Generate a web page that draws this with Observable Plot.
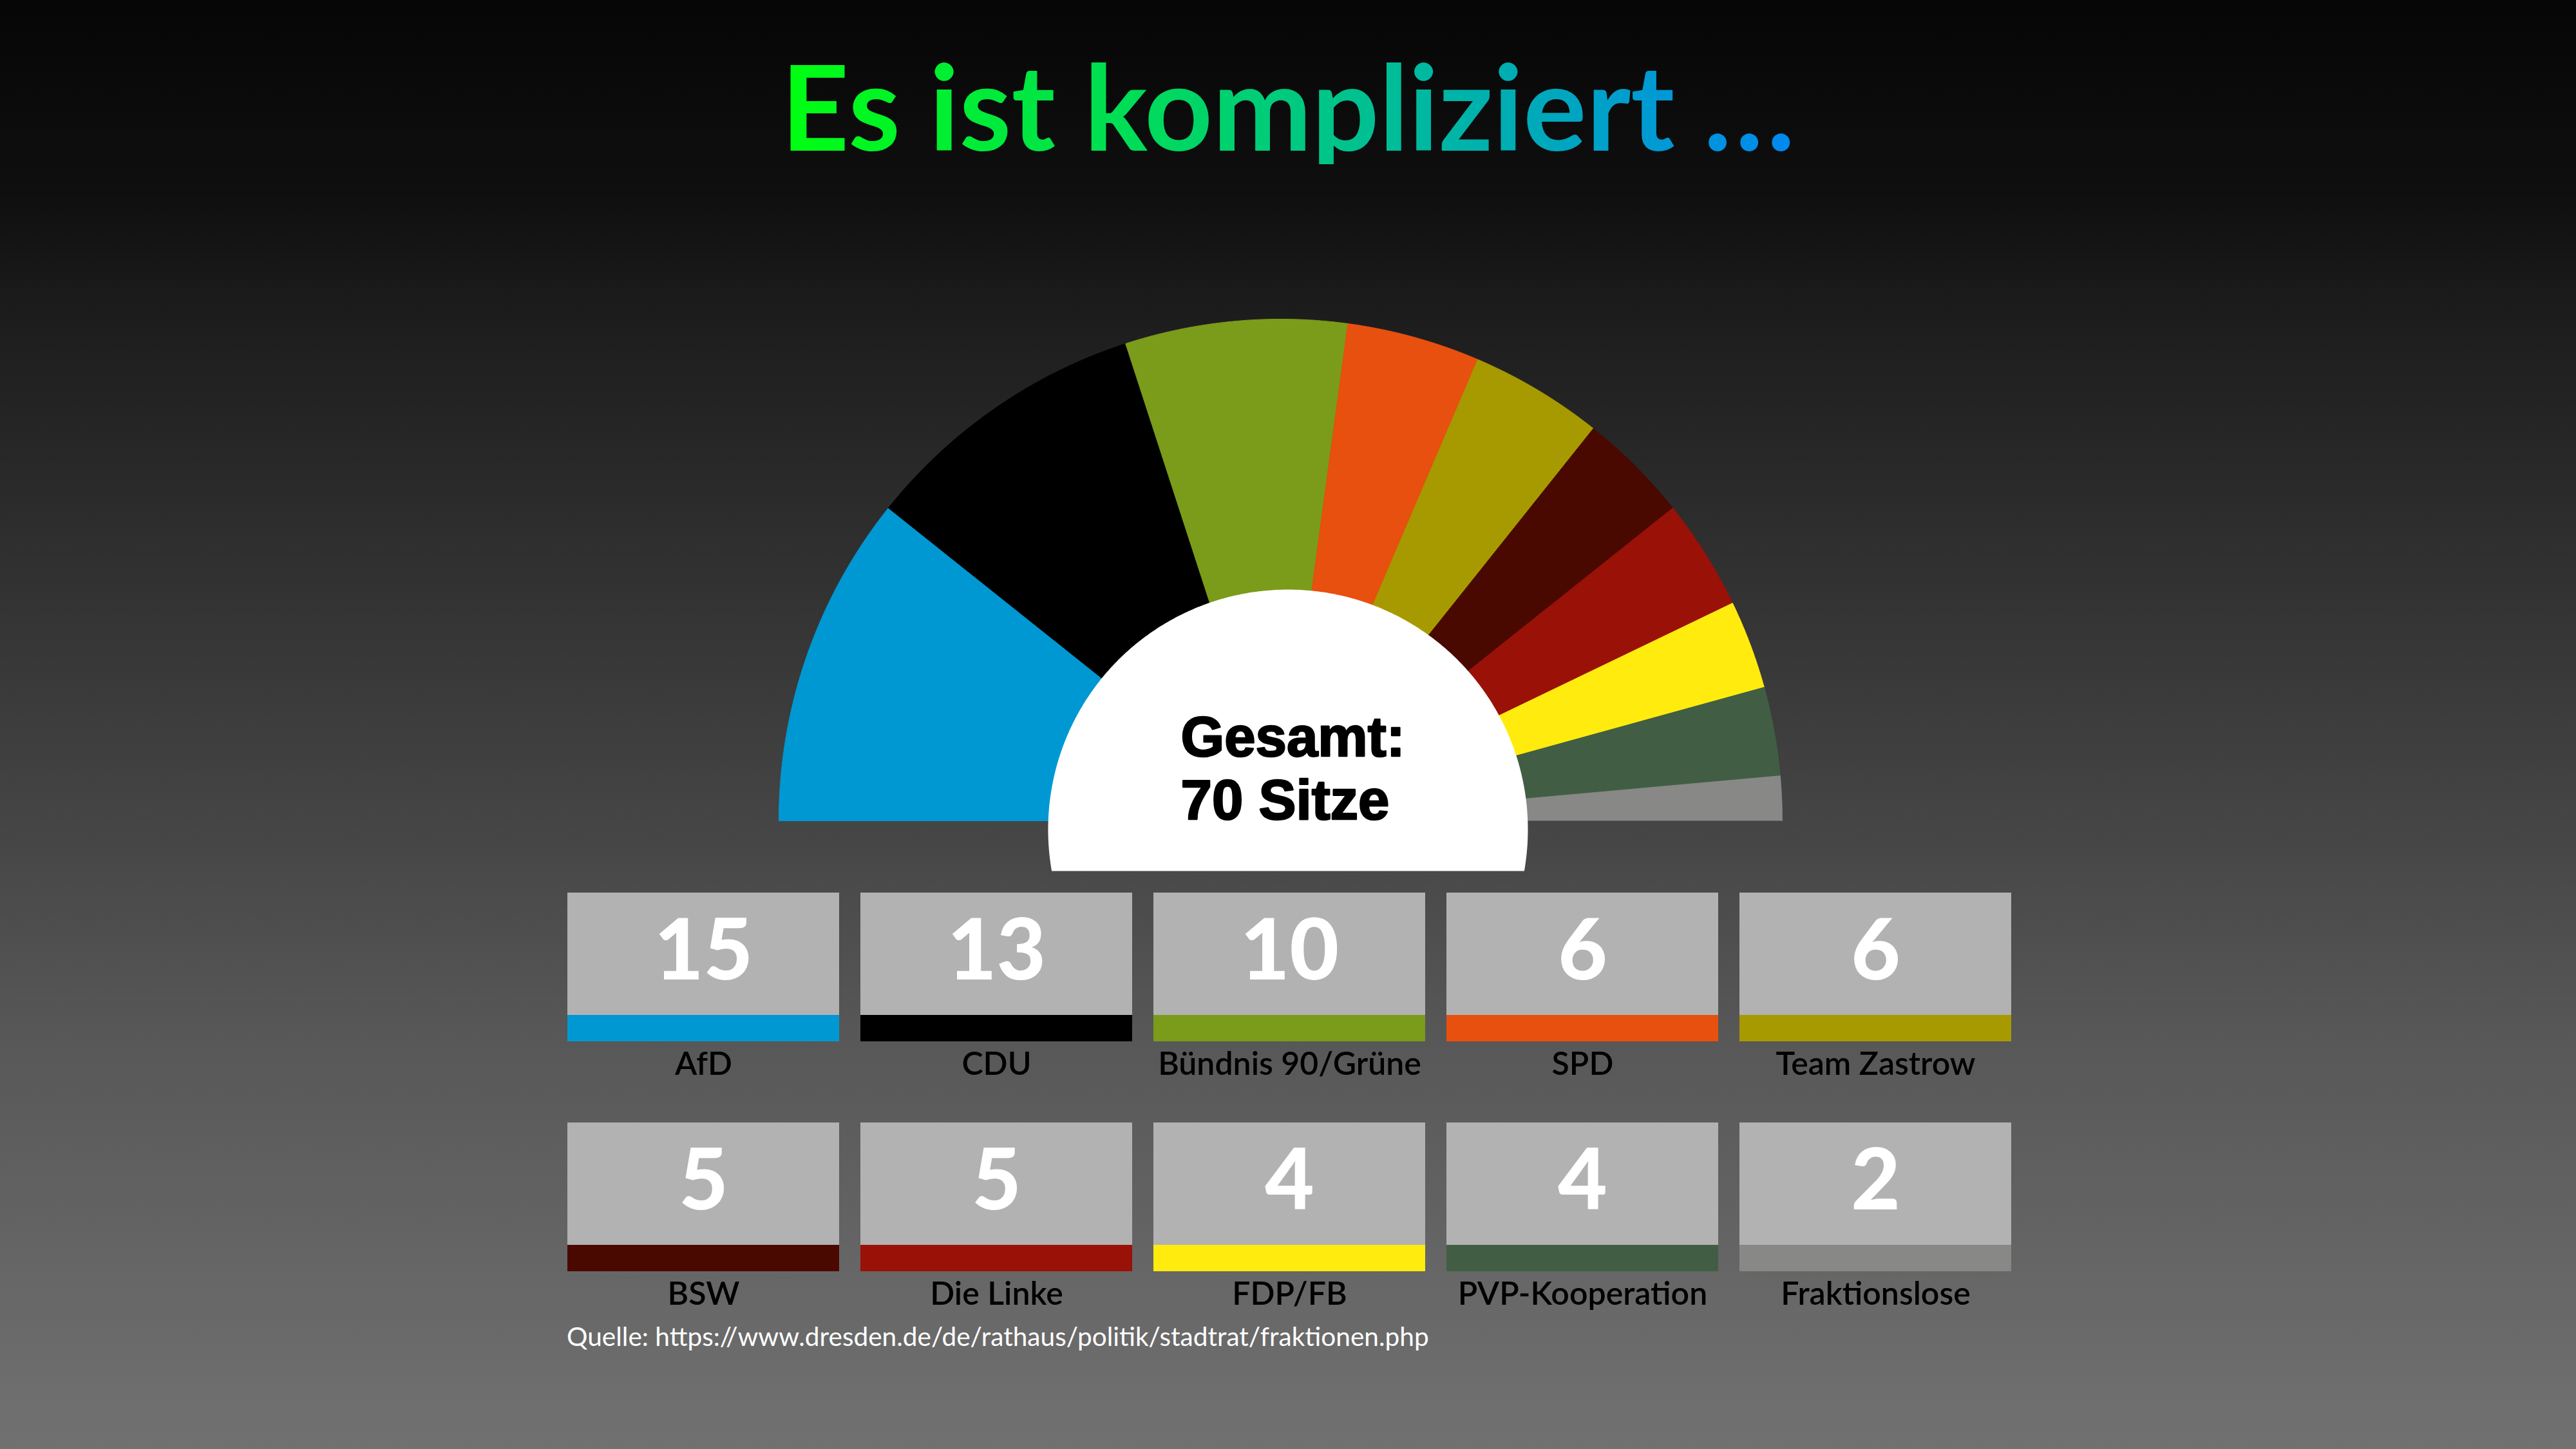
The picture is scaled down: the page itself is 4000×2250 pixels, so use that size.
<!DOCTYPE html>
<html>
<head>
<meta charset="utf-8">
<script src="https://cdn.jsdelivr.net/npm/d3@7"></script>
<script src="https://cdn.jsdelivr.net/npm/@observablehq/plot@0.6"></script>
<style>
html, body { margin: 0; padding: 0; }
body { width: 4000px; height: 2250px; overflow: hidden; }
#page {
  position: relative; width: 4000px; height: 2250px;
  background: linear-gradient(to bottom, #060606 0px, #0f0f0f 300px, #1c1c1c 480px, #464646 1300px, #575757 1600px, #6b6b6b 2100px, #717171 2250px);
  font-family: Lato, sans-serif;
}
#title { position: absolute; left: 0; top: 71px; width: 4000px; text-align: center; font-size: 184px; font-weight: 700; line-height: 1; }
#title span {
  display: inline-block;
  background: linear-gradient(to right, #00ff10 0%, #00dc58 35%, #00bd98 60%, #00a2c6 80%, #0088f0 100%);
  -webkit-background-clip: text; background-clip: text; color: transparent;
}
#hemi { position: absolute; left: 0; top: 330px; }
#boxes { position: absolute; left: 0; top: 1370px; }
#source { position: absolute; left: 880px; top: 2055px; font-size: 40.6px; color: #ffffff; font-weight: 400; line-height: 1; }
svg { display: block; }
</style>
</head>
<body>
<div id="page">
  <div id="title"><span id="titleText"></span></div>
  <div id="hemi"></div>
  <div id="boxes"></div>
  <div id="source"></div>
</div>
<script>
// ---- data ----
const titleText = "Es ist kompliziert …";
const parties = ["AfD", "CDU", "Bündnis 90/Grüne", "SPD", "Team Zastrow", "BSW", "Die Linke", "FDP/FB", "PVP-Kooperation", "Fraktionslose"];
const seats = [15, 13, 10, 6, 6, 5, 5, 4, 4, 2];
const colors = ["#0098d3", "#000000", "#7a9c1a", "#e8500f", "#a79a00", "#4a0900", "#9a1108", "#ffec0e", "#415e44", "#888886"];
const totalLabel = ["Gesamt:", "Sitze"];
const sourceText = "Quelle: https://www.dresden.de/de/rathaus/politik/stadtrat/fraktionen.php";

document.getElementById("titleText").textContent = titleText;
document.getElementById("source").textContent = sourceText;

const total = d3.sum(seats);

// ---- hemicycle geometry (unit = outer radius) ----
const R = 779;               // px per unit
const cxPx = 1988, cyPx = 944, hemiH = 1040;
const innerR = 372.5 / R, innerCx = 11.5 / R, innerCy = -13.5 / R, innerCut = -78 / R;

const wedges = [];
let cum = 0;
parties.forEach((p, i) => {
  const a0 = Math.PI * (1 - cum / total);
  cum += seats[i];
  const a1 = Math.PI * (1 - cum / total);
  wedges.push({party: p, color: colors[i], x: 0, y: 0});
  const n = 120;
  for (let k = 0; k <= n; k++) {
    const a = a0 + (a1 - a0) * k / n;
    wedges.push({party: p, color: colors[i], x: Math.cos(a), y: Math.sin(a)});
  }
});
const inner = d3.range(0, 721).map(k => {
  const a = k * Math.PI / 360;
  return {x: innerCx + innerR * Math.cos(a), y: Math.max(innerCut, innerCy + innerR * Math.sin(a))};
});

const hemi = Plot.plot({
  width: 4000, height: hemiH, margin: 0,
  style: {background: "transparent", overflow: "visible"},
  x: {domain: [-cxPx / R, (4000 - cxPx) / R], axis: null},
  y: {domain: [(cyPx - hemiH) / R, cyPx / R], axis: null},
  marks: [
    Plot.line(wedges, {x: "x", y: "y", z: "party", fill: "color", stroke: "color", strokeWidth: 1, curve: "linear"}),
    Plot.line(inner, {x: "x", y: "y", fill: "white", stroke: "none", curve: "linear"}),
    Plot.text([`${totalLabel[0]}\n${total} ${totalLabel[1]}`], {
      x: -155 / R, y: 3 / R, text: d => d, textAnchor: "start", lineAnchor: "bottom",
      fontSize: 87, fontWeight: 700, lineHeight: 98 / 87, fill: "black",
      stroke: "black", strokeWidth: 2.5, fontFamily: "'Liberation Sans', Arial, sans-serif"
    })
  ]
});
document.getElementById("hemi").appendChild(hemi);

// ---- boxes ----
const boxes = parties.map((p, i) => ({party: p, seats: seats[i], color: colors[i], col: i % 5, row: Math.floor(i / 5)}));
const boxH = 231, rowStep = 357, bandFrac = 41 / 231;

const grid = Plot.plot({
  width: 4000, height: 680,
  marginTop: 16, marginBottom: 76, marginLeft: 881, marginRight: 877,
  style: {background: "transparent", overflow: "visible", fontFamily: "Lato"},
  x: {type: "band", domain: d3.range(5), paddingInner: 33 / 455, paddingOuter: 0, axis: null},
  y: {domain: [0, 1], axis: null},
  fy: {domain: [0, 1], paddingInner: (rowStep - boxH) / rowStep, paddingOuter: 0, axis: null},
  facet: {data: boxes, y: "row"},
  marks: [
    Plot.barY(boxes, {x: "col", y1: bandFrac, y2: 1, fill: "#b2b2b2", inset: 0}),
    Plot.barY(boxes, {x: "col", y1: 0, y2: bandFrac, fill: "color", inset: 0}),
    Plot.text(boxes, {x: "col", y: 1 - 134 / boxH, text: "seats", fill: "white", fontSize: 132, fontWeight: 900, lineAnchor: "bottom"}),
    Plot.text(boxes, {x: "col", y: 1 - 282 / boxH, text: "party", fill: "black", fontSize: 50, fontWeight: 600, lineAnchor: "bottom"})
  ]
});
document.getElementById("boxes").appendChild(grid);
</script>
</body>
</html>
